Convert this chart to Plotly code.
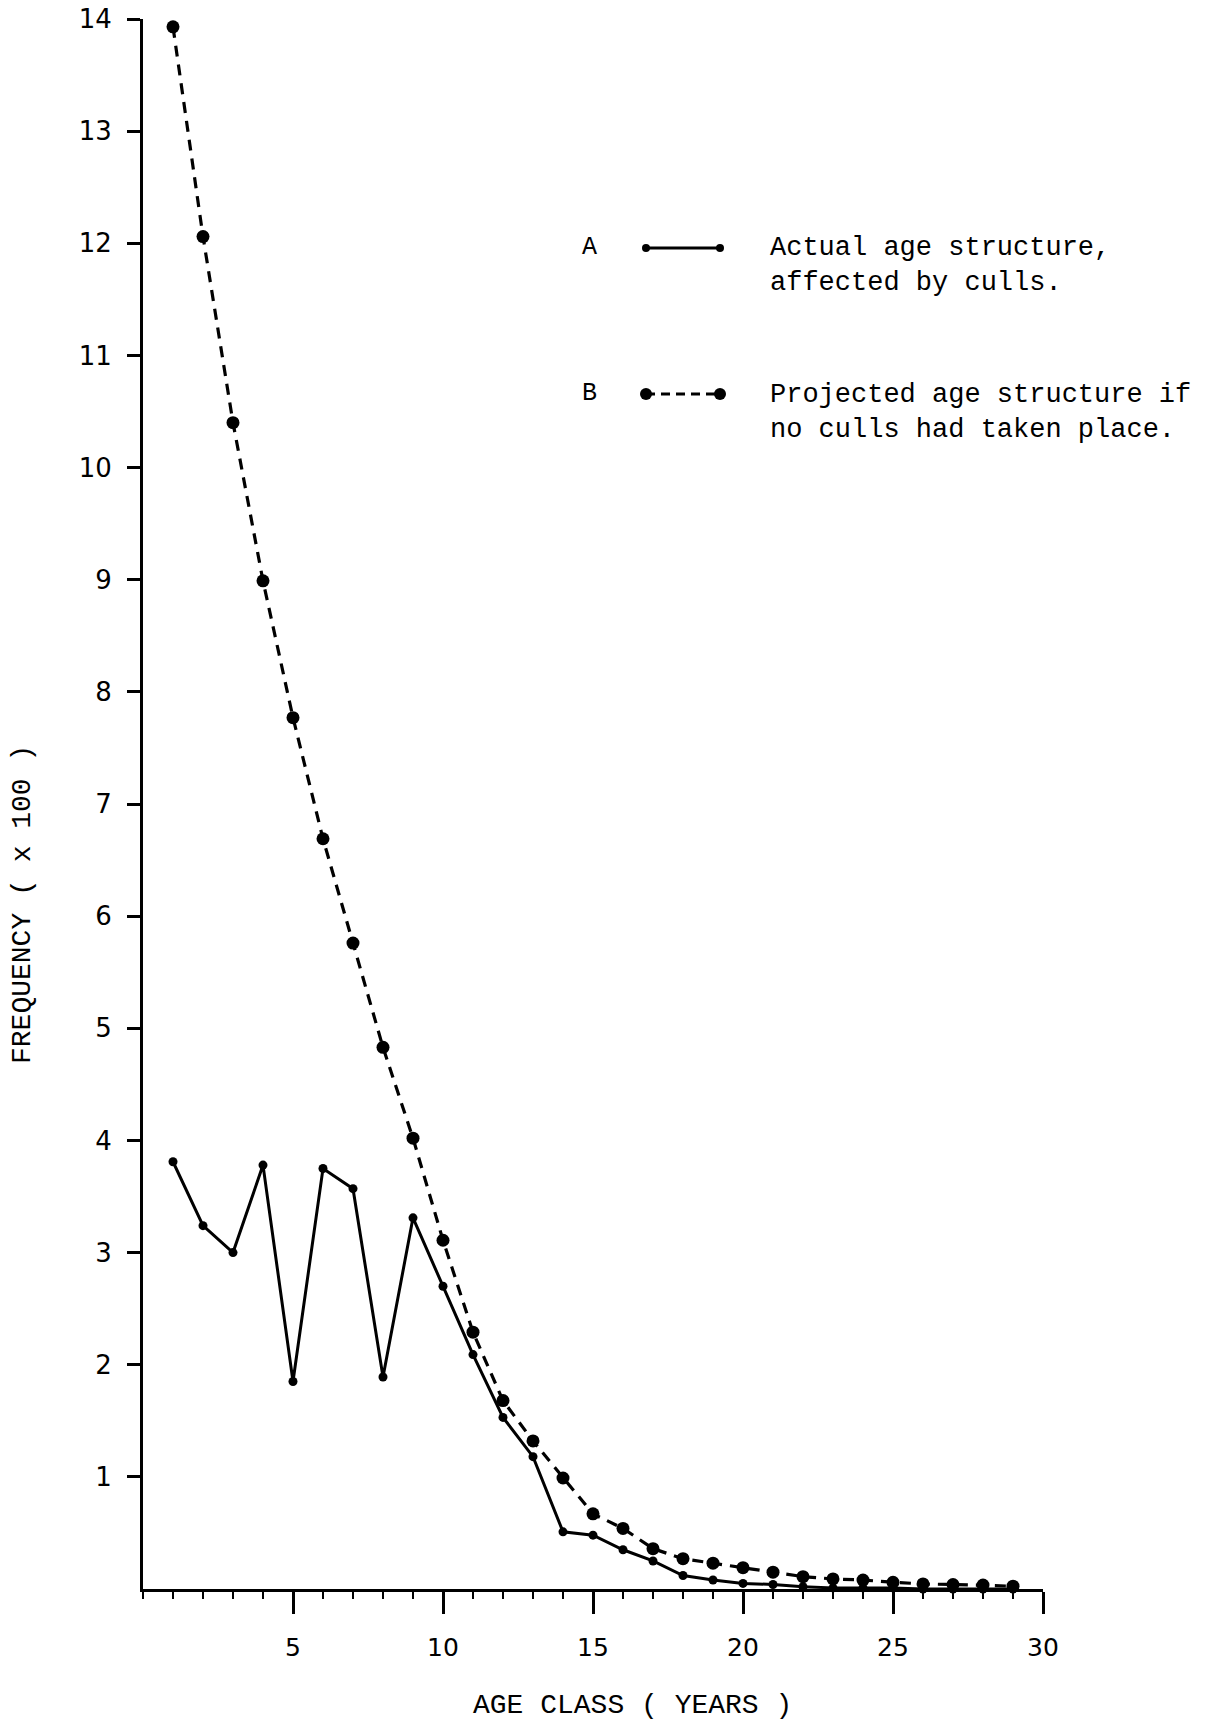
import plotly.graph_objects as go

# ---- data ----
ages = list(range(1, 30))
actual = [3.81, 3.24, 3.00, 3.78, 1.85, 3.75, 3.57, 1.89, 3.31, 2.70,
          2.09, 1.53, 1.18, 0.51, 0.48, 0.35, 0.25, 0.12, 0.08, 0.05,
          0.04, 0.02, 0.01, 0.01, 0.01, 0.0, 0.0, 0.0, 0.0]
projected = [13.93, 12.06, 10.40, 8.99, 7.77, 6.69, 5.76, 4.83, 4.02, 3.11,
             2.29, 1.68, 1.32, 0.99, 0.67, 0.54, 0.36, 0.27, 0.23, 0.19,
             0.15, 0.11, 0.09, 0.08, 0.06, 0.045, 0.04, 0.035, 0.025]
y_ticks = list(range(1, 15))
x_ticks = [5, 10, 15, 20, 25, 30]
legend_labels = ["A", "B"]
legend_texts = ["Actual age structure,<br>affected by culls.",
                "Projected age structure if<br>no culls had taken place."]
x_title = "AGE CLASS ( YEARS )"
y_title = "FREQUENCY ( x 100 )"

MONO = "Liberation Mono, Courier New, monospace"
SANS = "DejaVu Sans, sans-serif"

fig = go.Figure()
fig.add_trace(go.Scatter(
    x=ages, y=projected, mode="lines+markers", name="B",
    line=dict(color="black", width=3.2, dash="11px,8px"),
    marker=dict(color="black", size=13), cliponaxis=False))
fig.add_trace(go.Scatter(
    x=ages, y=actual, mode="lines+markers", name="A",
    line=dict(color="black", width=3),
    marker=dict(color="black", size=9), cliponaxis=False))

W, H = 1225, 1723
L, R, T, B = 143, 182, 19, 134
pw, ph = W - L - R, H - T - B

def px(x):
    return (x - L) / pw

def py(y):
    return (H - B - y) / ph

annotations = []
shapes = []
for i, (lab, txt) in enumerate(zip(legend_labels, legend_texts)):
    yl = [248, 394][i]
    annotations.append(dict(x=px(589), y=py(yl), xref="paper", yref="paper",
                            text=lab, showarrow=False,
                            font=dict(family=MONO, size=25, color="black"),
                            xanchor="center", yanchor="middle"))
    annotations.append(dict(x=px(768), y=py(yl + 18), xref="paper", yref="paper",
                            text=txt, showarrow=False, align="left",
                            font=dict(family=MONO, size=27, color="black"),
                            xanchor="left", yanchor="middle"))
    shapes.append(dict(type="line", xref="paper", yref="paper",
                       x0=px(646), x1=px(720), y0=py(yl), y1=py(yl),
                       line=dict(color="black", width=3,
                                 dash="solid" if i == 0 else "9px,6px")))
    r = 4 if i == 0 else 6
    for cx in (646, 720):
        shapes.append(dict(type="circle", xref="paper", yref="paper",
                           xsizemode="pixel", ysizemode="pixel",
                           xanchor=px(cx), yanchor=py(yl),
                           x0=-r, x1=r, y0=-r, y1=r,
                           fillcolor="black", line=dict(color="black", width=0)))

annotations.append(dict(x=px(632), y=py(1705), xref="paper", yref="paper",
                        text=x_title, showarrow=False,
                        font=dict(family=MONO, size=28, color="black"),
                        xanchor="center", yanchor="middle"))
annotations.append(dict(x=px(22), y=py(905), xref="paper", yref="paper",
                        text=y_title, showarrow=False, textangle=-90,
                        font=dict(family=MONO, size=28, color="black"),
                        xanchor="center", yanchor="middle"))

fig.update_layout(
    width=W, height=H,
    margin=dict(l=L, r=R, t=T, b=B, autoexpand=False),
    paper_bgcolor="white", plot_bgcolor="white",
    showlegend=False,
    annotations=annotations, shapes=shapes,
    xaxis=dict(range=[0, 30], showgrid=False, zeroline=False,
               showline=True, linecolor="black", linewidth=3,
               tickmode="array", tickvals=x_ticks,
               ticktext=[str(v) for v in x_ticks],
               ticks="outside", ticklen=22, tickwidth=3, tickcolor="black",
               ticklabelstandoff=12,
               tickfont=dict(family=SANS, size=25, color="black"),
               minor=dict(dtick=1, tick0=0, ticks="outside", ticklen=7,
                          tickwidth=2, tickcolor="black")),
    yaxis=dict(range=[0, 14], showgrid=False, zeroline=False,
               showline=True, linecolor="black", linewidth=3,
               tickmode="array", tickvals=y_ticks,
               ticktext=[str(v) for v in y_ticks],
               ticks="outside", ticklen=13, tickwidth=3, tickcolor="black",
               ticklabelstandoff=10,
               tickfont=dict(family=SANS, size=26, color="black")),
)

fig.write_html("out.html",
               config={"displayModeBar": False},
               post_script="document.body.style.margin='0';"
                           "document.body.style.overflow='hidden';")
